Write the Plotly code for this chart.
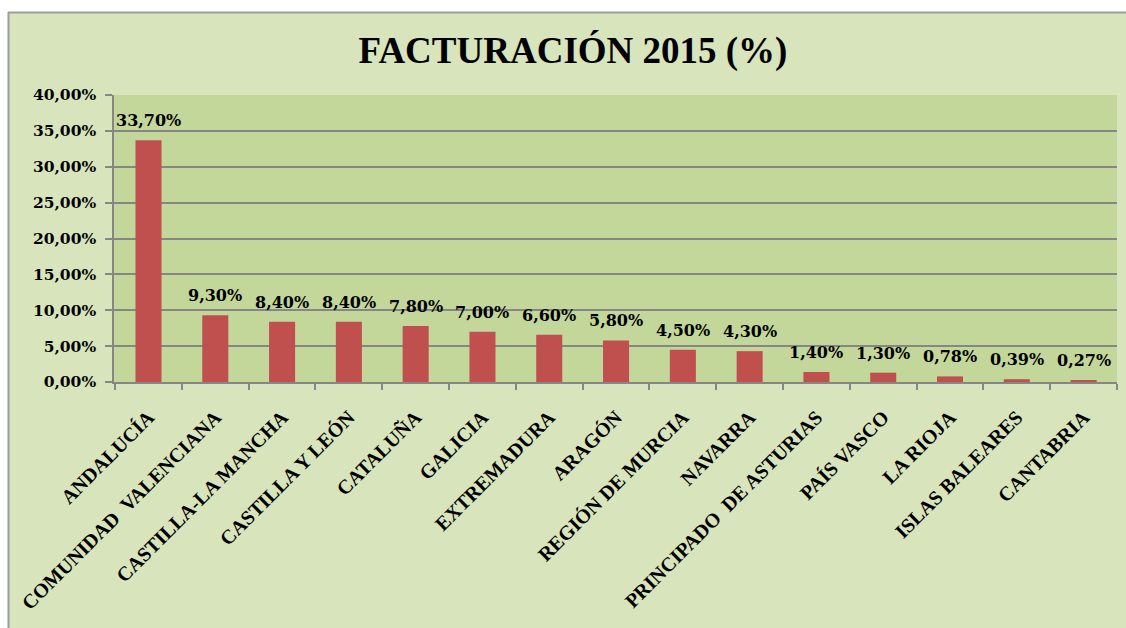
import plotly.graph_objects as go

categories = ["ANDALUCÍA", "COMUNIDAD  VALENCIANA", "CASTILLA-LA MANCHA", "CASTILLA Y LEÓN",
              "CATALUÑA", "GALICIA", "EXTREMADURA", "ARAGÓN", "REGIÓN DE MURCIA", "NAVARRA",
              "PRINCIPADO  DE ASTURIAS", "PAÍS VASCO", "LA RIOJA", "ISLAS BALEARES", "CANTABRIA"]
values = [33.70, 9.30, 8.40, 8.40, 7.80, 7.00, 6.60, 5.80, 4.50, 4.30, 1.40, 1.30, 0.78, 0.39, 0.27]
y_ticks = [0, 5, 10, 15, 20, 25, 30, 35, 40]
y_tick_labels = ["0,00%", "5,00%", "10,00%", "15,00%", "20,00%", "25,00%", "30,00%", "35,00%", "40,00%"]

W, H = 1126, 628
ML, MR, MT, MB = 114, 9, 95, 246
PW, PH = W - ML - MR, H - MT - MB

def px_x(px):
    return (px - ML) / PW

def px_y(py):
    return (H - MB - py) / PH

tick_text = [c.replace("  ", " \u00a0") for c in categories]

fig = go.Figure()
fig.add_trace(go.Bar(
    x=categories, y=values, marker=dict(color="#c0504d", line=dict(width=0)),
    width=0.39, hoverinfo="x+y"))

for c, v in zip(categories, values):
    fig.add_annotation(
        x=c, y=v, xref="x", yref="y", yanchor="bottom", yshift=8,
        text=f"{v:.2f}".replace(".", ",") + "%", showarrow=False,
        font=dict(family="DejaVu Serif", size=16, color="#000000", weight="bold"))

shapes = [
    dict(type="rect", xref="paper", yref="paper", x0=px_x(-10), x1=px_x(W),
         y0=px_y(12), y1=px_y(-10), fillcolor="#ffffff", line=dict(width=0), layer="below"),
    dict(type="rect", xref="paper", yref="paper", x0=px_x(-10), x1=px_x(8),
         y0=px_y(H), y1=px_y(-10), fillcolor="#ffffff", line=dict(width=0), layer="below"),
    dict(type="line", xref="paper", yref="paper", x0=px_x(8), x1=px_x(W),
         y0=px_y(12.5), y1=px_y(12.5), line=dict(color="#9c9c9c", width=2), layer="below"),
    dict(type="line", xref="paper", yref="paper", x0=px_x(8.5), x1=px_x(8.5),
         y0=px_y(12), y1=px_y(H), line=dict(color="#9c9c9c", width=2), layer="below"),
]

fig.update_layout(
    width=W, height=H,
    margin=dict(l=ML, r=MR, t=MT, b=MB, autoexpand=False),
    paper_bgcolor="#d8e4bc", plot_bgcolor="#c4d79b",
    showlegend=False,
    shapes=shapes,
    title=dict(text="FACTURACIÓN 2015 (%)", x=573 / W, xanchor="center", xref="container",
               y=1 - 50 / H, yanchor="middle", yref="container",
               font=dict(family="Liberation Serif", size=37, color="#000000", weight="bold")),
    xaxis=dict(
        type="category", tickmode="array", tickvals=categories, ticktext=tick_text,
        tickangle=-45, tickson="boundaries", ticks="outside", ticklen=6, tickcolor="#868686",
        tickwidth=1.5, showline=True, linecolor="#868686", linewidth=1.5, showgrid=False,
        tickfont=dict(family="Liberation Serif", size=20, color="#000000", weight="bold"),
        automargin=False, ticklabelstandoff=14),
    yaxis=dict(
        range=[0, 40], tickmode="array", tickvals=y_ticks, ticktext=y_tick_labels,
        ticks="outside", ticklen=7, tickcolor="#868686", tickwidth=1.5,
        showline=True, linecolor="#868686", linewidth=1.5,
        showgrid=True, gridcolor="#868686", gridwidth=1.5, zeroline=False,
        tickfont=dict(family="DejaVu Serif", size=15.5, color="#000000", weight="bold"),
        automargin=False, ticklabelstandoff=6),
)

fig.write_html("out.html", config={"displayModeBar": False})
